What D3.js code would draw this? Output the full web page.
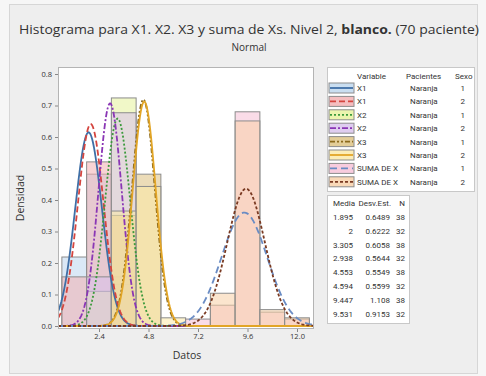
<!DOCTYPE html>
<html><head><meta charset="utf-8">
<script src="https://cdn.jsdelivr.net/npm/d3@7"></script>
<style>html,body{margin:0;padding:0;background:#f4f4f4;}svg{display:block;}</style>
</head><body>
<svg id="c" width="486" height="376"></svg>
<script>
// ---------- data ----------
const binCenters = [1.2, 2.4, 3.6, 4.8, 6.0, 7.2, 8.4, 9.6, 10.8, 12.0];
const binWidth = 1.2;
const dX1s1   = [0.219, 0.482, 0.132, 0, 0, 0, 0, 0, 0, 0];
const dX1s2   = [0.156, 0.521, 0.156, 0, 0, 0, 0, 0, 0, 0];
const dX2s1   = [0, 0.110, 0.724, 0, 0, 0, 0, 0, 0, 0];
const dX2s2   = [0, 0.156, 0.677, 0, 0, 0, 0, 0, 0, 0];
const dX3s1   = [0, 0, 0.351, 0.482, 0, 0, 0, 0, 0, 0];
const dX3s2   = [0, 0, 0.365, 0.443, 0.026, 0, 0, 0, 0, 0];
const dSUMAs1 = [0, 0, 0, 0, 0, 0.022, 0.066, 0.680, 0.044, 0.022];
const dSUMAs2 = [0, 0, 0, 0, 0, 0, 0.104, 0.651, 0.052, 0.026];
const variables = ["X1", "X1", "X2", "X2", "X3", "X3", "SUMA DE X", "SUMA DE X"];
const pacientes = ["Naranja", "Naranja", "Naranja", "Naranja", "Naranja", "Naranja", "Naranja", "Naranja"];
const sexo = ["1", "2", "1", "2", "1", "2", "1", "2"];
const means = [1.895, 2, 3.305, 2.938, 4.553, 4.594, 9.447, 9.531];
const sds = [0.6489, 0.6222, 0.6058, 0.5644, 0.5549, 0.5599, 1.108, 0.9153];
const ns = [38, 32, 38, 32, 38, 32, 38, 32];
const meanLabels = ["1.895", "2", "3.305", "2.938", "4.553", "4.594", "9.447", "9.531"];
const sdLabels = ["0.6489", "0.6222", "0.6058", "0.5644", "0.5549", "0.5599", "1.108", "0.9153"];
const xTicks = [2.4, 4.8, 7.2, 9.6, 12.0];
const yTicks = [0, 0.1, 0.2, 0.3, 0.4, 0.5, 0.6, 0.7, 0.8];

const densities = [dX1s1, dX1s2, dX2s1, dX2s2, dX3s1, dX3s2, dSUMAs1, dSUMAs2];
// ---------- styles ----------
const fills = ["#bcd6ee", "#f2aeb0", "#e6f29a", "#d7c0ec", "#dcc07e", "#fbe9a6", "#f6bfd6", "#f8cfa6"];
const lineCols = ["#3f6fa6", "#d4453f", "#3c9a3c", "#8a36b5", "#8c6a1c", "#e2a526", "#6a8cc4", "#7a3a22"];
const dashes = [null, "6,3", "2,2", "6,2,2,2", "5,2,2,2,2,2", null, "7,4", "3,2"];

const svg = d3.select("#c");
const font = "'Open Sans', 'Noto Sans', sans-serif";

// background frame
svg.append("rect").attr("x", 0).attr("y", 0).attr("width", 486).attr("height", 376).attr("fill", "#f6f6f6");
svg.append("rect").attr("x", 9.5).attr("y", 4.5).attr("width", 468).attr("height", 369)
  .attr("fill", "#eeeeee").attr("stroke", "#d6d6d6");

// title
const title = svg.append("text").attr("x", 249).attr("y", 34).attr("text-anchor", "middle")
  .attr("font-family", font).attr("font-size", 13).attr("fill", "#333")
  .attr("textLength", 460).attr("lengthAdjust", "spacingAndGlyphs");
title.append("tspan").text("Histograma para X1. X2. X3 y suma de Xs. Nivel 2, ");
title.append("tspan").attr("font-weight", "bold").text("blanco.");
title.append("tspan").text(" (70 paciente)");
svg.append("text").attr("x", 249).attr("y", 51).attr("text-anchor", "middle")
  .attr("font-family", font).attr("font-size", 10).attr("fill", "#333").text("Normal");

// plot area
const PL = 58, PR = 314, PT = 67, PB = 329;
svg.append("rect").attr("x", PL + 0.5).attr("y", PT + 0.5).attr("width", PR - PL - 1).attr("height", PB - PT - 1)
  .attr("fill", "#ffffff").attr("stroke", "#b4b4b4");

const x = d3.scaleLinear().domain([0, 12]).range([49.5, 297]);
const y = d3.scaleLinear().domain([0, 0.8]).range([326, 74]);

svg.append("defs").append("clipPath").attr("id", "clip")
  .append("rect").attr("x", PL + 1).attr("y", PT + 1).attr("width", PR - PL - 2).attr("height", PB - PT - 2);
const plot = svg.append("g").attr("clip-path", "url(#clip)");

// bars
densities.forEach((arr, gi) => {
  plot.append("g").selectAll("rect").data(arr.map((v, i) => ({c: binCenters[i], v})).filter(d => d.v > 0))
    .join("rect")
    .attr("x", d => x(d.c - binWidth / 2))
    .attr("width", d => x(d.c + binWidth / 2) - x(d.c - binWidth / 2))
    .attr("y", d => y(d.v))
    .attr("height", d => y(0) - y(d.v))
    .attr("fill", fills[gi]).attr("fill-opacity", 0.55)
    .attr("stroke", "#8c8c8c").attr("stroke-width", 1);
});

// normal curves
const xd = x.invert(PL), xu = x.invert(PR);
const xs = d3.range(0, 301).map(i => xd + (xu - xd) * i / 300);
const pdf = (v, m, s) => Math.exp(-0.5 * ((v - m) / s) ** 2) / (s * Math.sqrt(2 * Math.PI));
means.forEach((m, gi) => {
  const line = d3.line().x(v => x(v)).y(v => y(pdf(v, m, sds[gi])));
  plot.append("path").attr("d", line(xs)).attr("fill", "none")
    .attr("stroke", lineCols[gi]).attr("stroke-width", 1.8)
    .attr("stroke-dasharray", dashes[gi]);
});

// axes
const ya = svg.append("g").attr("transform", `translate(${PL},0)`)
  .call(d3.axisLeft(y).tickValues(yTicks).tickFormat(d3.format(".1f")).tickSize(3).tickPadding(3));
const xa = svg.append("g").attr("transform", `translate(0,${PB})`)
  .call(d3.axisBottom(x).tickValues(xTicks).tickFormat(d3.format(".1f")).tickSize(3).tickPadding(2));
[ya, xa].forEach(a => {
  a.select(".domain").remove();
  a.selectAll("line").attr("stroke", "#888");
  a.selectAll("text").attr("font-family", font).attr("font-size", 7.5).attr("fill", "#333");
});
svg.append("text").attr("transform", "translate(24,198) rotate(-90)").attr("text-anchor", "middle")
  .attr("font-family", font).attr("font-size", 10.5).attr("fill", "#333").text("Densidad");
svg.append("text").attr("x", 187).attr("y", 359).attr("text-anchor", "middle")
  .attr("font-family", font).attr("font-size", 10.5).attr("fill", "#333").text("Datos");

// legend
const lf = "'Liberation Sans Narrow', 'Roboto', sans-serif";
const lg = svg.append("g");
lg.append("rect").attr("x", 327.5).attr("y", 67.5).attr("width", 147).attr("height", 124)
  .attr("fill", "#fff").attr("stroke", "#c8c8c8");
const hdrY = 79;
lg.append("text").attr("x", 357).attr("y", hdrY).text("Variable");
lg.append("text").attr("x", 406).attr("y", hdrY).text("Pacientes");
lg.append("text").attr("x", 455).attr("y", hdrY).text("Sexo");
variables.forEach((v, i) => {
  const ry = 88 + i * 13.4;
  lg.append("rect").attr("x", 329).attr("y", ry - 5).attr("width", 25).attr("height", 10)
    .attr("fill", fills[i]).attr("fill-opacity", 0.8).attr("stroke", "#8c8c8c");
  lg.append("line").attr("x1", 330).attr("x2", 353).attr("y1", ry).attr("y2", ry)
    .attr("stroke", lineCols[i]).attr("stroke-width", 1.8).attr("stroke-dasharray", dashes[i]);
  lg.append("text").attr("x", 357).attr("y", ry + 3).text(v);
  lg.append("text").attr("x", 410).attr("y", ry + 3).text(pacientes[i]);
  lg.append("text").attr("x", 465).attr("y", ry + 3).attr("text-anchor", "end").text(sexo[i]);
});
lg.selectAll("text").attr("font-family", lf).attr("font-size", 8).attr("fill", "#333");

// stats table
const st = svg.append("g");
st.append("rect").attr("x", 327.5).attr("y", 195.5).attr("width", 82).attr("height", 128)
  .attr("fill", "#fff").attr("stroke", "#c8c8c8");
st.append("text").attr("x", 355).attr("y", 206).attr("text-anchor", "end").text("Media");
st.append("text").attr("x", 391).attr("y", 206).attr("text-anchor", "end").text("Desv.Est.");
st.append("text").attr("x", 405).attr("y", 206).attr("text-anchor", "end").text("N");
meanLabels.forEach((m, i) => {
  const ry = 220 + i * 13.8;
  st.append("text").attr("x", 353).attr("y", ry).attr("text-anchor", "end").text(m);
  st.append("text").attr("x", 390).attr("y", ry).attr("text-anchor", "end").text(sdLabels[i]);
  st.append("text").attr("x", 405).attr("y", ry).attr("text-anchor", "end").text(ns[i]);
});
st.selectAll("text").attr("font-family", lf).attr("font-size", 8).attr("fill", "#333");
</script>
</body></html>
